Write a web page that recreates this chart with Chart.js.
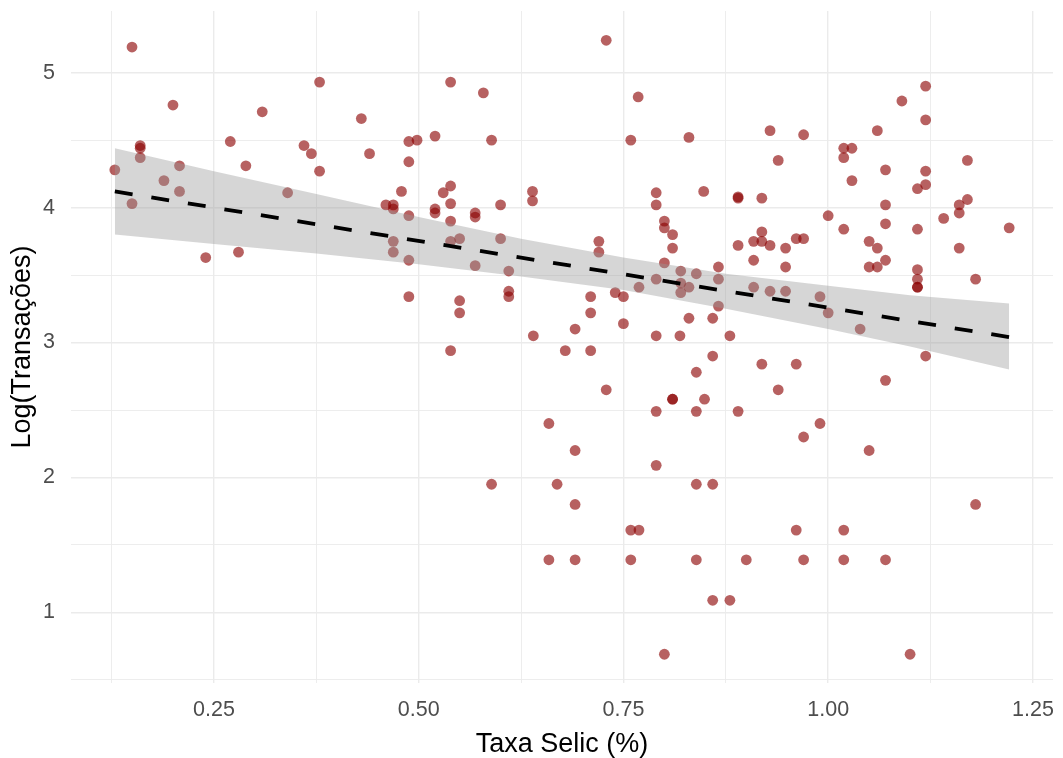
<!DOCTYPE html>
<html>
<head>
<meta charset="utf-8">
<script src="https://cdn.jsdelivr.net/npm/chart.js@4.4.1/dist/chart.umd.min.js"></script>
<style>
  html, body { margin: 0; padding: 0; background: #ffffff; }
  #wrap { width: 1063px; height: 758px; position: relative; }
</style>
</head>
<body>
<div id="wrap"><canvas id="c" width="1063" height="758"></canvas></div>
<script>
// ---- data ----
const selic = [
  0.129,0.150,0.150,0.160,0.160,0.160,0.189,0.200,0.208,0.208,
  0.240,0.270,0.280,0.289,0.309,0.340,0.360,0.369,0.379,0.379,
  0.430,0.440,0.460,0.469,0.469,0.469,0.469,0.479,0.488,0.488,
  0.488,0.488,0.488,0.498,0.520,0.520,0.520,0.530,0.539,0.539,
  0.539,0.539,0.539,0.539,0.550,0.550,0.550,0.569,0.569,0.569,
  0.579,0.589,0.589,0.600,0.600,0.610,0.610,0.610,0.639,0.639,
  0.640,0.659,0.659,0.669,0.679,0.691,0.691,0.691,0.691,0.710,
  0.710,0.710,0.720,0.720,0.729,0.729,0.740,0.750,0.750,0.759,
  0.759,0.759,0.768,0.769,0.769,0.790,0.790,0.790,0.790,0.790,
  0.790,0.800,0.800,0.800,0.800,0.810,0.810,0.810,0.810,0.819,
  0.820,0.820,0.820,0.830,0.830,0.830,0.839,0.839,0.839,0.839,
  0.839,0.848,0.849,0.859,0.859,0.859,0.859,0.866,0.866,0.866,
  0.880,0.880,0.890,0.890,0.890,0.890,0.900,0.909,0.909,0.909,
  0.919,0.919,0.919,0.919,0.929,0.929,0.929,0.939,0.939,0.948,
  0.948,0.948,0.961,0.961,0.961,0.970,0.970,0.970,0.970,0.990,
  0.990,1.000,1.000,1.019,1.019,1.019,1.019,1.019,1.029,1.029,
  1.039,1.050,1.050,1.050,1.060,1.060,1.060,1.070,1.070,1.070,
  1.070,1.070,1.070,1.090,1.100,1.109,1.109,1.109,1.109,1.109,
  1.109,1.119,1.119,1.119,1.119,1.119,1.141,1.160,1.160,1.160,
  1.170,1.170,1.180,1.180,1.221
];
const logTrans = [
  4.28,5.19,4.03,4.46,4.44,4.37,4.20,4.76,4.31,4.12,
  3.63,4.49,3.67,4.31,4.71,4.11,4.46,4.40,4.93,4.27,
  4.66,4.40,4.02,4.02,3.99,3.75,3.67,4.12,4.49,4.34,
  3.94,3.61,3.34,4.50,4.53,3.99,3.96,4.11,4.93,4.16,
  4.03,3.90,3.75,2.94,3.77,3.31,3.22,3.96,3.93,3.57,
  4.85,4.50,1.95,4.02,3.77,3.53,3.38,3.34,4.12,4.05,
  3.05,2.40,1.39,1.95,2.94,3.10,2.20,1.80,1.39,3.34,
  3.22,2.94,3.75,3.67,5.24,2.65,3.37,3.34,3.14,4.50,
  1.61,1.39,4.82,3.41,1.61,4.11,4.02,3.47,3.05,2.49,
  2.09,3.90,3.85,3.59,0.69,3.80,3.70,2.58,2.58,3.05,
  3.53,3.44,3.37,4.52,3.41,3.18,3.51,2.78,2.49,1.95,
  1.39,4.12,2.58,3.18,2.90,1.95,1.09,3.56,3.47,3.27,
  3.05,1.09,4.08,4.07,3.72,2.49,1.39,3.75,3.61,3.41,
  4.07,3.82,3.75,2.84,4.57,3.72,3.38,4.35,2.65,3.70,
  3.56,3.38,3.77,2.84,1.61,4.54,3.77,2.30,1.39,3.34,
  2.40,3.94,3.22,4.44,4.37,3.84,1.61,1.39,4.44,4.20,
  3.10,3.75,3.56,2.20,4.57,3.70,3.56,4.28,4.02,3.88,
  3.61,2.72,1.39,4.79,0.69,4.14,3.84,3.54,3.47,3.41,
  3.41,4.90,4.65,4.27,4.17,2.90,3.92,4.02,3.96,3.70,
  4.35,4.06,3.47,1.80,3.85
];
// fitted line and confidence band
const fitX = [0.129, 1.221];
const fitY = [4.12, 3.04];
const bandX     = [0.129, 0.25, 0.375, 0.5, 0.625, 0.75, 0.875, 1.0, 1.1, 1.221];
const bandUpper = [4.44, 4.27, 4.10, 3.93, 3.77, 3.63, 3.51, 3.42, 3.35, 3.29];
const bandLower = [3.80, 3.73, 3.66, 3.58, 3.49, 3.39, 3.25, 3.10, 2.97, 2.80];
// axis ticks
const xTickValues = [0.125, 0.25, 0.375, 0.5, 0.625, 0.75, 0.875, 1.0, 1.125, 1.25];
const xMajorLabels = {0.25: "0.25", 0.5: "0.50", 0.75: "0.75", 1: "1.00", 1.25: "1.25"};
const yTickValues = [0.5, 1, 1.5, 2, 2.5, 3, 3.5, 4, 4.5, 5];
const yMajorLabels = {1: "1", 2: "2", 3: "3", 4: "4", 5: "5"};

const toXY = (xs, ys) => xs.map((x, i) => ({x: x, y: ys[i]}));

const FONT = "'Liberation Sans', Arial, Helvetica, sans-serif";
const GRID = '#ebebeb';

function zeroPad(s) {
  s.paddingLeft = 0; s.paddingRight = 0; s.paddingTop = 0; s.paddingBottom = 0;
}

const ctx = document.getElementById('c').getContext('2d');
new Chart(ctx, {
  type: 'scatter',
  data: {
    datasets: [
      {
        type: 'line',
        label: 'fit',
        data: toXY(fitX, fitY),
        borderColor: '#000000',
        borderWidth: 3.8,
        borderDash: [18, 19],
        pointRadius: 0,
        fill: false,
        order: 0
      },
      {
        type: 'line',
        label: 'upper',
        data: toXY(bandX, bandUpper),
        borderWidth: 0,
        borderColor: 'rgba(0,0,0,0)',
        backgroundColor: 'rgba(153,153,153,0.4)',
        pointRadius: 0,
        fill: '+1',
        order: 1
      },
      {
        type: 'line',
        label: 'lower',
        data: toXY(bandX, bandLower),
        borderWidth: 0,
        borderColor: 'rgba(0,0,0,0)',
        backgroundColor: 'rgba(0,0,0,0)',
        pointRadius: 0,
        fill: false,
        order: 2
      },
      {
        label: 'pontos',
        data: toXY(selic, logTrans),
        backgroundColor: 'rgba(139,0,0,0.62)',
        borderColor: 'rgba(139,0,0,0.62)',
        borderWidth: 0,
        pointRadius: 5.4,
        pointHoverRadius: 5.4,
        order: 3
      }
    ]
  },
  options: {
    responsive: false,
    animation: false,
    events: [],
    layout: { padding: { left: 0, right: 10, top: 11, bottom: 0 } },
    plugins: {
      legend: { display: false },
      tooltip: { enabled: false }
    },
    scales: {
      x: {
        type: 'linear',
        min: 0.0755,
        max: 1.2745,
        border: { display: false },
        grid: {
          color: GRID,
          lineWidth: c => (xMajorLabels[c.tick.value] ? 1.4 : 0.9),
          drawTicks: false
        },
        afterBuildTicks: s => { s.ticks = xTickValues.map(v => ({value: v})); },
        afterFit: s => { s.height = 75; zeroPad(s); },
        ticks: {
          padding: 14,
          autoSkip: false,
          maxRotation: 0,
          color: '#4d4d4d',
          font: { family: FONT, size: 21.5 },
          callback: v => xMajorLabels[v] || ''
        },
        title: {
          display: true,
          text: 'Taxa Selic (%)',
          color: '#000000',
          font: { family: FONT, size: 27, lineHeight: 1 },
          padding: { top: 0, bottom: 0 }
        }
      },
      y: {
        type: 'linear',
        min: 0.477,
        max: 5.457,
        border: { display: false },
        grid: {
          color: GRID,
          lineWidth: c => (yMajorLabels[c.tick.value] ? 1.4 : 0.9),
          drawTicks: false
        },
        afterBuildTicks: s => { s.ticks = yTickValues.map(v => ({value: v})); },
        afterFit: s => { s.width = 71; zeroPad(s); },
        ticks: {
          padding: 16,
          autoSkip: false,
          color: '#4d4d4d',
          font: { family: FONT, size: 21.5 },
          callback: v => yMajorLabels[v] || ''
        },
        title: {
          display: true,
          text: 'Log(Transações)',
          color: '#000000',
          font: { family: FONT, size: 27, lineHeight: 1 },
          padding: { top: 9, bottom: 0 }
        }
      }
    }
  }
});
</script>
</body>
</html>
